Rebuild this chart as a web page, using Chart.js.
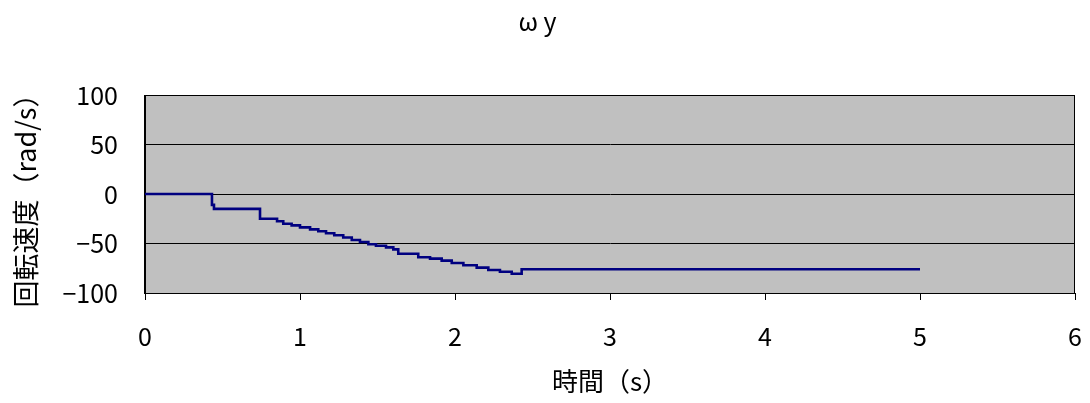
<!DOCTYPE html>
<html>
<head>
<meta charset="utf-8">
<script src="https://cdn.jsdelivr.net/npm/chart.js@4"></script>
<style>
  body { margin: 0; background: #fff; }
  #wrap { width: 1090px; height: 403px; }
</style>
</head>
<body>
<div id="wrap"><canvas id="chartWy"></canvas></div>
<script>
// 時間 (s) と回転速度 (rad/s) の階段データ
const tiempos = [0, 0.432, 0.445, 0.742, 0.852, 0.892, 0.946, 1.0, 1.065, 1.118, 1.168, 1.221,
  1.279, 1.334, 1.387, 1.441, 1.490, 1.555, 1.602, 1.634, 1.763, 1.839, 1.914, 1.979,
  2.054, 2.140, 2.215, 2.290, 2.366, 2.430, 5.0];
const omegaY = [0, -11, -15, -25, -27.5, -30, -31.7, -33.7, -35.7, -37.7, -39.7, -41.7,
  -44, -46.5, -48.5, -50.8, -52.2, -53.9, -55.9, -60.3, -63.9, -65.3, -67.3, -69.7,
  -72, -74.4, -76.8, -78.5, -80.5, -76, -76];

const xTicks = [0, 1, 2, 3, 4, 5, 6];
const yTicks = [-100, -50, 0, 50, 100];

const fuente = "'Noto Sans CJK JP', 'DejaVu Sans', sans-serif";

const puntos = tiempos.map((t, i) => ({ x: t, y: omegaY[i] }));

// fondo gris y marco del area de trazado
const plotArea = {
  id: "plotArea",
  beforeDraw(chart) {
    const { ctx, chartArea: a } = chart;
    ctx.save();
    ctx.fillStyle = "#c0c0c0";
    ctx.fillRect(a.left, a.top, a.right - a.left, a.bottom - a.top);
    ctx.restore();
  },
  beforeDatasetsDraw(chart) {
    const { ctx, chartArea: a } = chart;
    ctx.save();
    ctx.strokeStyle = "#000";
    ctx.lineWidth = 1;
    ctx.strokeRect(Math.round(a.left) - 0.5, Math.round(a.top) + 0.5,
      Math.round(a.right - a.left), Math.round(a.bottom - a.top));
    ctx.restore();
  },
};

new Chart(document.getElementById("chartWy"), {
  type: "line",
  data: {
    datasets: [{
      data: puntos,
      borderColor: "#000080",
      borderWidth: 2.6,
      pointRadius: 0,
      stepped: true,
      fill: false,
    }],
  },
  options: {
    responsive: true,
    maintainAspectRatio: false,
    animation: false,
    layout: { padding: { left: 0, right: 15, top: 0, bottom: 0 } },
    plugins: {
      legend: { display: false },
      tooltip: { enabled: false },
      title: {
        display: true,
        text: "ω y",
        color: "#000",
        font: { family: fuente, size: 25, weight: "normal" },
        padding: { top: 6, bottom: 59 },
      },
    },
    scales: {
      x: {
        type: "linear",
        min: 0,
        max: 6,
        afterBuildTicks: (s) => { s.ticks = xTicks.map((v) => ({ value: v })); },
        afterFit: (s) => { s.height = 110; s.paddingLeft = 0; s.paddingRight = 0; },
        grid: { drawOnChartArea: false, drawTicks: true, tickLength: 7, color: "#000" },
        border: { display: true, color: "#000" },
        ticks: { color: "#000", padding: 21, maxRotation: 0, font: { family: fuente, size: 25 } },
        title: {
          display: true,
          text: "時間（s）",
          color: "#000",
          font: { family: fuente, size: 26 },
          padding: { top: 0, bottom: 6 },
        },
      },
      y: {
        min: -100,
        max: 100,
        afterBuildTicks: (s) => { s.ticks = yTicks.map((v) => ({ value: v })); },
        afterFit: (s) => { s.width = 145; },
        grid: { drawTicks: false, color: "#000" },
        border: { display: true, color: "#000" },
        ticks: {
          color: "#000",
          padding: 27,
          font: { family: fuente, size: 25 },
          callback: (v) => String(v).replace("-", "\u2212"),
        },
        title: {
          display: true,
          text: "回転速度（rad/s）",
          color: "#000",
          font: { family: fuente, size: 27 },
          padding: { top: 10, bottom: 0 },
        },
      },
    },
  },
  plugins: [plotArea],
});
</script>
</body>
</html>
